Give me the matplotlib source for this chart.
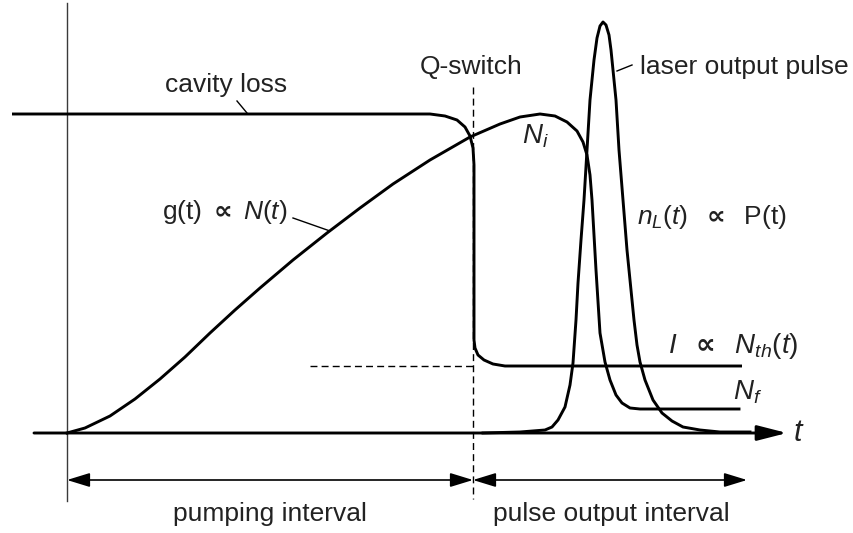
import matplotlib
matplotlib.use('Agg')
import matplotlib.pyplot as plt

plt.rcParams['font.family'] = ['Liberation Sans', 'DejaVu Sans']
plt.rcParams['mathtext.fontset'] = 'custom'
plt.rcParams['mathtext.rm'] = 'Liberation Sans'
plt.rcParams['mathtext.it'] = 'Liberation Sans:italic'
plt.rcParams['mathtext.fallback'] = 'stixsans'

# time axis t, level axis (population / loss), arbitrary units
loss_t = [-55, 363, 378, 390, 398, 403, 406, 407, 407, 408, 411, 417, 426, 438, 675]
loss_v = [319, 319, 317, 313, 306, 297, 285, 268, 93, 85, 78, 73, 69, 67, 67]

gain_t = [0, 18, 43, 68, 93, 118, 143, 168, 193, 226, 260, 293, 326, 363, 403,
          433, 453, 473, 488, 500, 510, 516, 520, 523, 525, 529, 533, 538, 543,
          549, 555, 563, 573, 672]
gain_v = [0, 5, 17, 34, 54, 76, 100, 123, 145, 173, 200, 225, 249, 273, 296,
          309, 316, 319, 317, 311, 302, 291, 278, 258, 233, 163, 100, 71, 53,
          38, 30, 25, 24, 24]

pulse_t = [416, 453, 478, 485, 491, 498, 503, 506, 509, 511, 514, 517, 520, 523,
           527, 530, 533, 536, 539, 542, 544, 547, 549, 552, 556, 560, 564, 567,
           570, 573, 578, 586, 595, 605, 616, 633, 653, 683]
pulse_v = [0, 1, 3, 6, 13, 26, 48, 70, 113, 150, 193, 233, 283, 333,
           373, 395, 407, 411, 408, 398, 383, 353, 333, 283, 233, 183, 143, 113,
           88, 71, 53, 33, 20, 12, 6, 3, 1, 1]

t_switch = 406
t_end = 680
n_th = 67

fig = plt.figure(figsize=(8.54, 5.33), dpi=100)
ax = fig.add_axes([0, 0, 1, 1])
ax.set_xlim(-67, 787)
ax.set_ylim(-100, 433)
ax.axis('off')

lw = 2.1
# axes
ax.plot([0, 0], [430, -68], color='#3a3a3a', lw=1.0)
ax.annotate('', xy=(720, 0), xytext=(-33, 0),
            arrowprops=dict(arrowstyle='-|>,head_length=18,head_width=4.6',
                            mutation_scale=1, lw=lw, color='black',
                            shrinkA=0, shrinkB=0))
ax.text(731, 0, 't', fontsize=22, style='italic', ha='center', va='center', color='#222222')

# curves
ax.plot(loss_t, loss_v, color='black', lw=lw, solid_capstyle='butt')
ax.plot(gain_t, gain_v, color='black', lw=lw, solid_joinstyle='round')
ax.plot(pulse_t, pulse_v, color='black', lw=lw, solid_joinstyle='round')

# dashed guides
ax.plot([243, t_switch], [n_th, n_th], color='black', lw=1.0, ls=(0, (5, 3)))
ax.plot([t_switch, t_switch], [346, -66], color='black', lw=1.0, ls=(0, (5, 3)))

# interval arrows
for a, b in [(0, t_switch), (t_switch, t_end)]:
    ax.annotate('', xy=(b, -47), xytext=(a, -47),
                arrowprops=dict(arrowstyle='<|-|>,head_length=14,head_width=4.3',
                                mutation_scale=1, lw=1.2, color='black',
                                shrinkA=0, shrinkB=0))

# leader lines
ax.plot([170, 180], [332, 320], color='black', lw=1.0)
ax.plot([226, 263], [215, 202], color='black', lw=1.0)
ax.plot([550, 565], [362, 368], color='black', lw=1.0)

fs = 19
tc = '#222222'
prop = r'$\boldsymbol{\propto}$'
ax.text(159, 348, 'cavity loss', fontsize=fs, ha='center', va='center', color=tc)
ax.text(220, 221, r'g(t) ' + prop + r' $\mathit{N(t)}$', fontsize=fs, ha='right', va='center', color=tc)
ax.text(404, 366, 'Q-switch', fontsize=fs, ha='center', va='center', color=tc)
ax.text(468, 297, r'$\mathit{N_i}$', fontsize=fs + 1, ha='center', va='center', color=tc)
ax.text(573, 366, 'laser output pulse', fontsize=fs, ha='left', va='center', color=tc)
ax.text(570, 216, r'$\mathit{n_L(t)}$  ' + prop + r'  P(t)', fontsize=fs, ha='left', va='center', color=tc)
ax.text(601, 87, r'$\mathit{I}$  ' + prop + r'  $\mathit{N_{th}(t)}$', fontsize=fs + 1, ha='left', va='center', color=tc)
ax.text(666, 41, r'$\mathit{N_f}$', fontsize=fs + 1, ha='left', va='center', color=tc)
ax.text(203, -81, 'pumping interval', fontsize=fs, ha='center', va='center', color=tc)
ax.text(544, -81, 'pulse output interval', fontsize=fs, ha='center', va='center', color=tc)

fig.savefig('out.png', dpi=100)
